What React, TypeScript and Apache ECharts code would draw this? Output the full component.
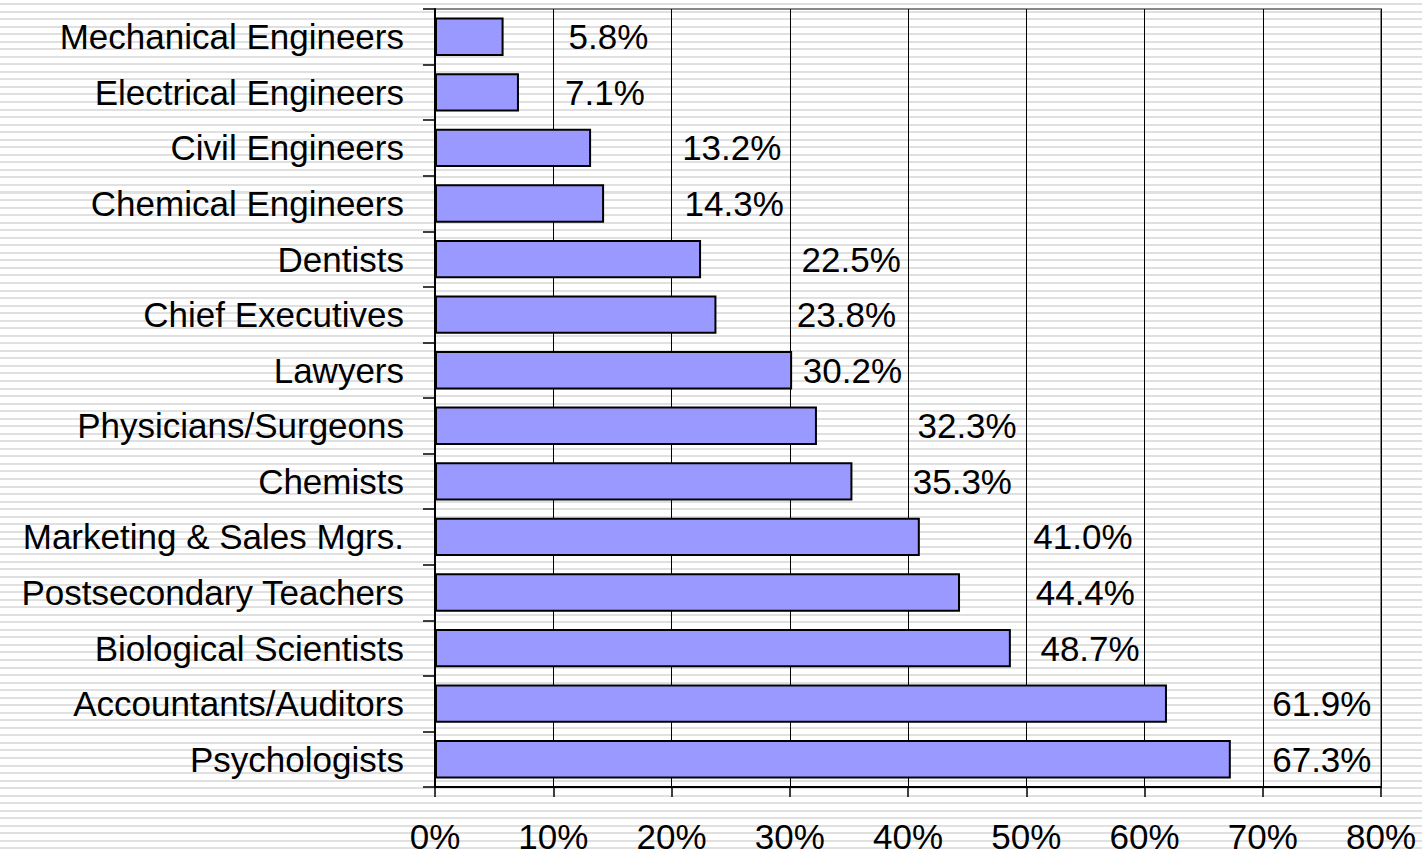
import React, { useEffect, useRef } from "react";
import * as echarts from "echarts";

const categories = [
  "Mechanical Engineers",
  "Electrical Engineers",
  "Civil Engineers",
  "Chemical Engineers",
  "Dentists",
  "Chief Executives",
  "Lawyers",
  "Physicians/Surgeons",
  "Chemists",
  "Marketing & Sales Mgrs.",
  "Postsecondary Teachers",
  "Biological Scientists",
  "Accountants/Auditors",
  "Psychologists",
];

const values = [5.8, 7.1, 13.2, 14.3, 22.5, 23.8, 30.2, 32.3, 35.3, 41.0, 44.4, 48.7, 61.9, 67.3];

// x position (in % units) where each data label starts
const labelAnchors = [11.3, 11.0, 20.9, 21.1, 31.0, 30.6, 31.1, 40.8, 40.4, 50.6, 50.8, 51.2, 70.8, 70.8];

const xTicks = [0, 10, 20, 30, 40, 50, 60, 70, 80];

const FONT = "'Liberation Sans', Arial, sans-serif";

export default function App() {
  const ref = useRef<HTMLDivElement>(null);

  useEffect(() => {
    document.body.style.margin = "0";
    const chart = echarts.init(ref.current!, null, { renderer: "svg" });
    chart.setOption({
      animation: false,
      backgroundColor: "transparent",
      grid: {
        left: 435,
        right: 41,
        top: 9,
        bottom: 67,
        containLabel: false,
        outerBoundsMode: "none",
        show: true,
        borderColor: "#888888",
        borderWidth: 2,
        backgroundColor: "transparent",
      },
      xAxis: {
        type: "value",
        min: xTicks[0],
        max: xTicks[xTicks.length - 1],
        interval: 10,
        axisLine: { show: true, lineStyle: { color: "#000", width: 2 } },
        axisTick: { show: true, length: 10, lineStyle: { color: "#000", width: 1.5 } },
        splitLine: { show: true, lineStyle: { color: "#000", width: 1 } },
        axisLabel: {
          formatter: "{value}%",
          fontSize: 35,
          lineHeight: 26,
          color: "#000",
          fontFamily: FONT,
          margin: 36,
        },
      },
      yAxis: {
        type: "category",
        data: categories,
        inverse: true,
        axisLine: { show: true, lineStyle: { color: "#000", width: 2 } },
        axisTick: { show: true, length: 12, lineStyle: { color: "#000", width: 1.5 } },
        splitLine: { show: false },
        axisLabel: {
          fontSize: 35,
          color: "#000",
          fontFamily: FONT,
          margin: 31,
        },
      },
      series: [
        {
          type: "bar",
          data: values,
          barCategoryGap: "31%",
          itemStyle: { color: "#9999FF", borderColor: "#000", borderWidth: 2 },
          label: { show: false },
          silent: true,
        },
        {
          type: "scatter",
          data: labelAnchors.map((a, i) => [a, categories[i], values[i]]),
          symbolSize: 0,
          silent: true,
          itemStyle: { color: "#000000", opacity: 1 },
          label: {
            show: true,
            position: "right",
            distance: 0,
            fontSize: 35,
            color: "#000000",
            opacity: 1,
            textBorderWidth: 0,
            fontFamily: FONT,
            formatter: (p: any) => p.value[2].toFixed(1) + "%",
          },
        },
      ],
    });
    return () => chart.dispose();
  }, []);

  return (
    <div
      style={{
        position: "fixed",
        left: 0,
        top: 0,
        width: 1422,
        height: 854,
        backgroundColor: "#ffffff",
        backgroundImage:
          "repeating-linear-gradient(to bottom, #ffffff 0px, #ffffff 3px, #e0e0e0 3px, #e0e0e0 5px, #ffffff 5px, #ffffff 7.54px)",
      }}
    >
      <div ref={ref} style={{ width: 1422, height: 854 }} />
    </div>
  );
}
